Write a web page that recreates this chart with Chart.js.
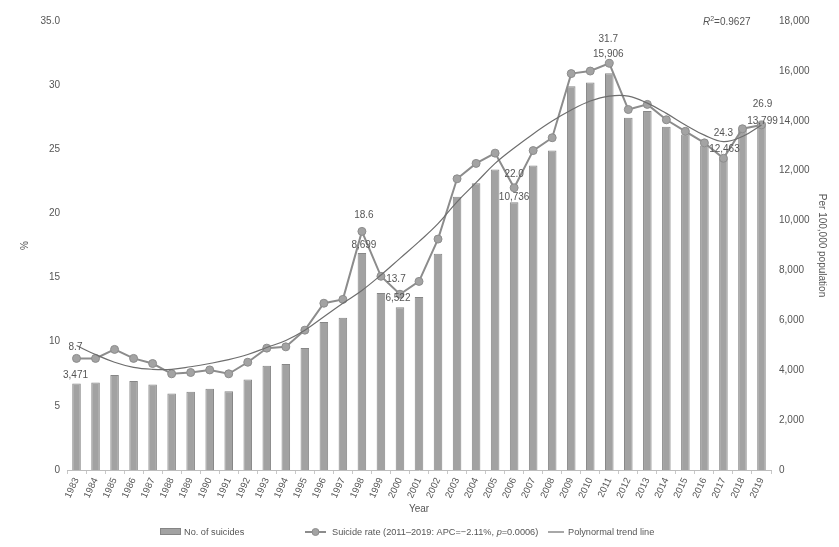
<!DOCTYPE html>
<html>
<head>
<meta charset="utf-8">
<script src="https://cdn.jsdelivr.net/npm/chart.js@4/dist/chart.umd.min.js"></script>
<style>
html,body{margin:0;padding:0;background:#fff;}
canvas{display:block;}
</style>
</head>
<body>
<canvas id="c" width="839" height="547"></canvas>
<script>
// ---------- data ----------
const years = ['1983','1984','1985','1986','1987','1988','1989','1990','1991','1992','1993','1994','1995','1996','1997','1998','1999','2000','2001','2002','2003','2004','2005','2006','2007','2008','2009','2010','2011','2012','2013','2014','2015','2016','2017','2018','2019'];
const suicides = [3471,3511,3806,3564,3431,3068,3136,3257,3160,3632,4184,4249,4894,5929,6101,8699,7098,6522,6938,8666,10954,11491,12043,10736,12204,12808,15389,15537,15906,14124,14393,13760,13454,13011,12463,13657,13799];
const suicideRate = [8.7,8.7,9.4,8.7,8.3,7.5,7.6,7.8,7.5,8.4,9.5,9.6,10.9,13.0,13.3,18.6,15.1,13.7,14.7,18.0,22.7,23.9,24.7,22.0,24.9,25.9,30.9,31.1,31.7,28.1,28.5,27.3,26.4,25.5,24.3,26.6,26.9];
const trendLine = [9.7,9.0,8.4,8.0,7.85,7.85,8.05,8.3,8.6,9.0,9.55,10.1,10.9,11.95,13.0,14.0,15.2,16.5,17.8,19.2,20.9,22.4,23.9,25.1,26.2,27.2,28.06,28.76,29.15,29.15,28.6,27.8,26.9,26.1,25.6,26.0,26.9];
const labelledYears = ['1983','1998','2000','2006','2011','2017','2019'];
const leftTicks = [0,5,10,15,20,25,30,35];
const rightTicks = [0,2000,4000,6000,8000,10000,12000,14000,16000,18000];
const rSquared = '0.9627';
const legendLabels = ['No. of suicides', 'Suicide rate (2011\u20132019: APC=\u22122.11%, ', 'p', '=0.0006)', 'Polynormal trend line'];

// ---------- styles / placement (not data) ----------
const FONT = '"Liberation Sans", Arial, sans-serif';
const TXT = '#555555';
const rateLabelOffsets  = [[-1,-11],[2,-16],[-4,-15],[0,-14],[-1,-24],[0,-25],[1,-21]];
const countLabelOffsets = [[-1,-8],[2,-8],[-2,-9],[0,-5],[-1,-19],[1,-10],[1,-5]];

const valueLabels = {
  id: 'valueLabels',
  afterDatasetsDraw(chart) {
    const ctx = chart.ctx;
    const barMeta = chart.getDatasetMeta(0);
    const rateMeta = chart.getDatasetMeta(1);
    ctx.save();
    ctx.font = '10px ' + FONT;
    ctx.fillStyle = TXT;
    ctx.textAlign = 'center';
    ctx.textBaseline = 'middle';
    labelledYears.forEach((yr, k) => {
      const i = years.indexOf(yr);
      const p = rateMeta.data[i], b = barMeta.data[i];
      ctx.fillText(suicideRate[i].toFixed(1), p.x + rateLabelOffsets[k][0], p.y + rateLabelOffsets[k][1]);
      ctx.fillText(suicides[i].toLocaleString('en-US'), b.x + countLabelOffsets[k][0], b.y + countLabelOffsets[k][1]);
    });
    // R^2
    let x = 703, y = 22;
    ctx.textAlign = 'left';
    ctx.font = 'italic 10px ' + FONT;
    ctx.fillText('R', x, y);
    x += ctx.measureText('R').width;
    ctx.font = '7px ' + FONT;
    ctx.fillText('2', x, y - 3);
    x += ctx.measureText('2').width;
    ctx.font = '10px ' + FONT;
    ctx.fillText('=' + rSquared, x, y);
    ctx.restore();
  }
};

const customLegend = {
  id: 'customLegend',
  afterDraw(chart) {
    const ctx = chart.ctx;
    const y = 532;
    const f = '9.2px ' + FONT;
    ctx.save();
    ctx.font = f;
    ctx.textBaseline = 'middle';
    ctx.textAlign = 'left';
    // bars
    ctx.fillStyle = '#a2a2a2';
    ctx.fillRect(160.5, y - 3.5, 20, 6);
    ctx.strokeStyle = '#858585';
    ctx.lineWidth = 1;
    ctx.strokeRect(160.5, y - 3.5, 20, 6);
    ctx.fillStyle = TXT;
    ctx.fillText(legendLabels[0], 184, y);
    // rate line
    ctx.strokeStyle = '#8c8c8c';
    ctx.lineWidth = 2;
    ctx.beginPath(); ctx.moveTo(305, y); ctx.lineTo(326, y); ctx.stroke();
    ctx.fillStyle = '#a3a3a3';
    ctx.lineWidth = 1;
    ctx.beginPath(); ctx.arc(315.5, y, 3.5, 0, Math.PI * 2); ctx.fill(); ctx.stroke();
    ctx.fillStyle = TXT;
    let x = 332;
    ctx.fillText(legendLabels[1], x, y); x += ctx.measureText(legendLabels[1]).width;
    ctx.font = 'italic ' + f;
    ctx.fillText(legendLabels[2], x, y); x += ctx.measureText(legendLabels[2]).width;
    ctx.font = f;
    ctx.fillText(legendLabels[3], x, y);
    // trend line
    ctx.strokeStyle = '#6e6e6e';
    ctx.lineWidth = 1.2;
    ctx.beginPath(); ctx.moveTo(548, y); ctx.lineTo(564, y); ctx.stroke();
    ctx.fillText(legendLabels[4], 568, y);
    ctx.restore();
  }
};

new Chart(document.getElementById('c'), {
  data: {
    labels: years,
    datasets: [
      {
        type: 'bar', label: legendLabels[0], data: suicides, yAxisID: 'y1', order: 3,
        backgroundColor: '#a2a2a2', borderColor: '#878787', borderWidth: 1,
        barPercentage: 0.45, categoryPercentage: 1
      },
      {
        type: 'line', label: 'Suicide rate', data: suicideRate, yAxisID: 'y', order: 2,
        borderColor: '#8c8c8c', borderWidth: 2, tension: 0,
        pointRadius: 4, pointBackgroundColor: '#a3a3a3', pointBorderColor: '#8c8c8c', pointBorderWidth: 1
      },
      {
        type: 'line', label: legendLabels[4], data: trendLine, yAxisID: 'y', order: 1,
        borderColor: '#6e6e6e', borderWidth: 1.2, pointRadius: 0, tension: 0.4
      }
    ]
  },
  options: {
    responsive: false,
    animation: false,
    events: [],
    layout: { padding: { top: 21, bottom: 30, left: 0, right: 0 } },
    plugins: { legend: { display: false }, tooltip: { enabled: false } },
    scales: {
      x: {
        type: 'category', offset: true,
        grid: { display: true, drawOnChartArea: false, drawTicks: true, tickLength: 4, color: '#c8c8c8', offset: true },
        border: { display: true, color: '#bdbdbd' },
        ticks: { autoSkip: false, minRotation: 65, maxRotation: 65, padding: 2, color: TXT, font: { family: FONT, size: 9.5 } },
        title: { display: true, text: 'Year', color: TXT, font: { family: FONT, size: 10 }, padding: { top: 4, bottom: 2 } },
        afterFit(s) { s.height = 47; }
      },
      y: {
        position: 'left', min: 0, max: 35,
        afterBuildTicks(s) { s.ticks = leftTicks.map(v => ({ value: v })); },
        ticks: { padding: 7, color: TXT, font: { family: FONT, size: 10 }, callback: v => (v === 35 ? '35.0' : String(v)) },
        grid: { display: false, drawTicks: false },
        border: { display: false },
        title: { display: true, text: '%', color: TXT, font: { family: FONT, size: 10 }, padding: { top: 19, bottom: 0 } },
        afterFit(s) { s.width = 67; }
      },
      y1: {
        position: 'right', min: 0, max: 18000,
        afterBuildTicks(s) { s.ticks = rightTicks.map(v => ({ value: v })); },
        ticks: { padding: 8, color: TXT, font: { family: FONT, size: 10 }, callback: v => v.toLocaleString('en-US') },
        grid: { display: false, drawTicks: false },
        border: { display: false },
        title: { display: true, text: 'Per 100,000 population', color: TXT, font: { family: FONT, size: 10 }, padding: { top: 11, bottom: 0 } },
        afterFit(s) { s.width = 68; }
      }
    }
  },
  plugins: [valueLabels, customLegend]
});
</script>
</body>
</html>
